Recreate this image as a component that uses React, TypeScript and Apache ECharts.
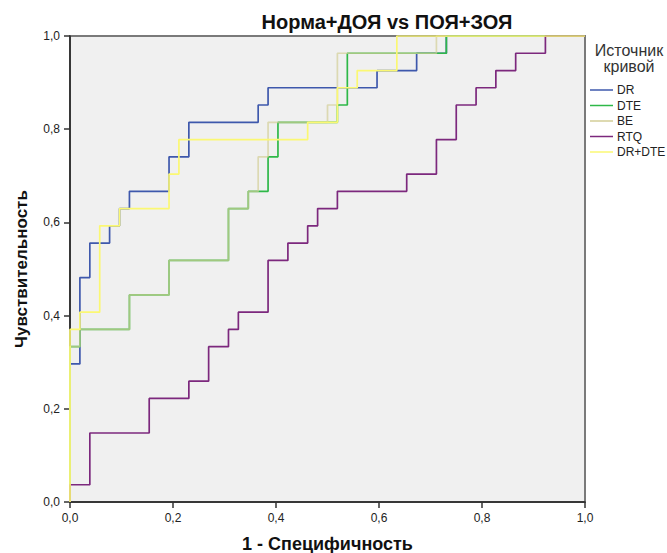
import React, { useEffect, useRef } from "react";
import * as echarts from "echarts";

const FONT = "'Liberation Sans', Arial, sans-serif";

const titleText = "Норма+ДОЯ vs ПОЯ+ЗОЯ";
const xAxisName = "1 - Специфичность";
const yAxisName = "Чувствительность";
const legendTitle = "Источник\nкривой";
const seriesNames = ["DR", "DTE", "BE", "RTQ", "DR+DTE"];
const seriesColors = ["#3E58AC", "#2EB848", "#D3CE97", "#7C287D", "#FBF873"];

// staircase vertices [1 - specificity, sensitivity]
const drPts = [[0,0],[0,0.2963],[0.0192,0.2963],[0.0192,0.4815],[0.0385,0.4815],[0.0385,0.5556],[0.0769,0.5556],[0.0769,0.5926],[0.0962,0.5926],[0.0962,0.6296],[0.1154,0.6296],[0.1154,0.6667],[0.1923,0.6667],[0.1923,0.7407],[0.2308,0.7407],[0.2308,0.8148],[0.3654,0.8148],[0.3654,0.8519],[0.3846,0.8519],[0.3846,0.8889],[0.5962,0.8889],[0.5962,0.9259],[0.6731,0.9259],[0.6731,0.963],[0.7308,0.963],[0.7308,1],[1,1]];
const dtePts = [[0,0],[0,0.3333],[0.0192,0.3333],[0.0192,0.3704],[0.1154,0.3704],[0.1154,0.4444],[0.1923,0.4444],[0.1923,0.5185],[0.3077,0.5185],[0.3077,0.6296],[0.3462,0.6296],[0.3462,0.6667],[0.3846,0.6667],[0.3846,0.7407],[0.4038,0.7407],[0.4038,0.8148],[0.5192,0.8148],[0.5192,0.8519],[0.5385,0.8519],[0.5385,0.963],[0.7308,0.963],[0.7308,1],[1,1]];
const bePts = [[0,0],[0,0.3333],[0.0192,0.3333],[0.0192,0.3704],[0.1154,0.3704],[0.1154,0.4444],[0.1923,0.4444],[0.1923,0.5185],[0.3077,0.5185],[0.3077,0.6296],[0.3462,0.6296],[0.3462,0.6667],[0.3654,0.6667],[0.3654,0.7407],[0.3846,0.7407],[0.3846,0.8148],[0.5,0.8148],[0.5,0.8519],[0.5192,0.8519],[0.5192,0.963],[0.7115,0.963],[0.7115,1],[1,1]];
const rtqPts = [[0,0],[0,0.037],[0.0385,0.037],[0.0385,0.1481],[0.1538,0.1481],[0.1538,0.2222],[0.2308,0.2222],[0.2308,0.2593],[0.2692,0.2593],[0.2692,0.3333],[0.3077,0.3333],[0.3077,0.3704],[0.3269,0.3704],[0.3269,0.4074],[0.3846,0.4074],[0.3846,0.5185],[0.4231,0.5185],[0.4231,0.5556],[0.4615,0.5556],[0.4615,0.5926],[0.4808,0.5926],[0.4808,0.6296],[0.5192,0.6296],[0.5192,0.6667],[0.6538,0.6667],[0.6538,0.7037],[0.7115,0.7037],[0.7115,0.7778],[0.75,0.7778],[0.75,0.8519],[0.7885,0.8519],[0.7885,0.8889],[0.8269,0.8889],[0.8269,0.9259],[0.8654,0.9259],[0.8654,0.963],[0.9231,0.963],[0.9231,1],[1,1]];
const drDtePts = [[0,0],[0,0.3704],[0.0192,0.3704],[0.0192,0.4074],[0.0577,0.4074],[0.0577,0.5926],[0.0962,0.5926],[0.0962,0.6296],[0.1923,0.6296],[0.1923,0.7037],[0.2115,0.7037],[0.2115,0.7778],[0.4615,0.7778],[0.4615,0.8148],[0.5192,0.8148],[0.5192,0.8889],[0.5577,0.8889],[0.5577,0.9259],[0.6346,0.9259],[0.6346,1],[1,1]];

const seriesData = [drPts, dtePts, bePts, rtqPts, drDtePts];
const seriesOpacity = [1, 1, 0.7, 1, 1];

const fmt = (v: number) => v.toFixed(1).replace(".", ",");

export default function App() {
  const ref = useRef<HTMLDivElement>(null);
  useEffect(() => {
    if (!ref.current) return;
    const chart = echarts.init(ref.current, undefined, { renderer: "svg" });
    const axisCommon = {
      type: "value" as const,
      min: 0,
      max: 1,
      interval: 0.2,
      nameLocation: "middle" as const,
      axisLine: { show: true, onZero: false, lineStyle: { color: "#222", width: 1.5 } },
      axisTick: { show: true, length: 6, lineStyle: { color: "#333", width: 1.5 } },
      axisLabel: { formatter: fmt, fontFamily: FONT, fontSize: 12, color: "#222", margin: 10 },
      splitLine: { show: false },
    };
    chart.setOption({
      animation: false,
      backgroundColor: "#fff",
      grid: {
        left: 70,
        right: 82,
        top: 36,
        bottom: 51,
        containLabel: false,
        outerBoundsMode: "none",
        show: true,
        backgroundColor: "#F0F0F0",
        borderColor: "#7a7a7a",
        borderWidth: 2,
      },
      xAxis: {
        ...axisCommon,
        name: xAxisName,
        nameGap: 33,
        nameTextStyle: { fontFamily: FONT, fontWeight: "bold", fontSize: 18, color: "#111" },
      },
      yAxis: {
        ...axisCommon,
        name: yAxisName,
        nameGap: 40,
        nameTextStyle: { fontFamily: FONT, fontWeight: "bold", fontSize: 17, color: "#111" },
      },
      legend: {
        orient: "vertical",
        left: 590,
        top: 84,
        padding: 0,
        icon: "rect",
        itemWidth: 23,
        itemHeight: 1.5,
        itemGap: 3.5,
        textStyle: { fontFamily: FONT, fontSize: 12, color: "#222", lineHeight: 12, padding: [0, 0, 0, -1] },
        data: seriesNames,
      },
      graphic: [
        {
          type: "text",
          x: 387,
          y: 22,
          style: {
            text: titleText,
            font: `bold 20px ${FONT}`,
            fill: "#111",
            textAlign: "center",
            textVerticalAlign: "middle",
          },
        },
        {
          type: "text",
          x: 629,
          y: 42,
          style: {
            text: legendTitle,
            font: `16px ${FONT}`,
            lineHeight: 16,
            fill: "#333",
            textAlign: "center",
            textVerticalAlign: "top",
          },
        },
      ],
      series: seriesNames.map((name, i) => ({
        name,
        type: "line",
        data: seriesData[i],
        showSymbol: false,
        symbol: "none",
        lineStyle: { color: seriesColors[i], width: 1.7, opacity: seriesOpacity[i] },
        itemStyle: { color: seriesColors[i] },
        z: 2 + i,
      })),
    });
    return () => chart.dispose();
  }, []);
  return <div ref={ref} style={{ position: "fixed", left: 0, top: 0, width: 667, height: 553 }} />;
}
